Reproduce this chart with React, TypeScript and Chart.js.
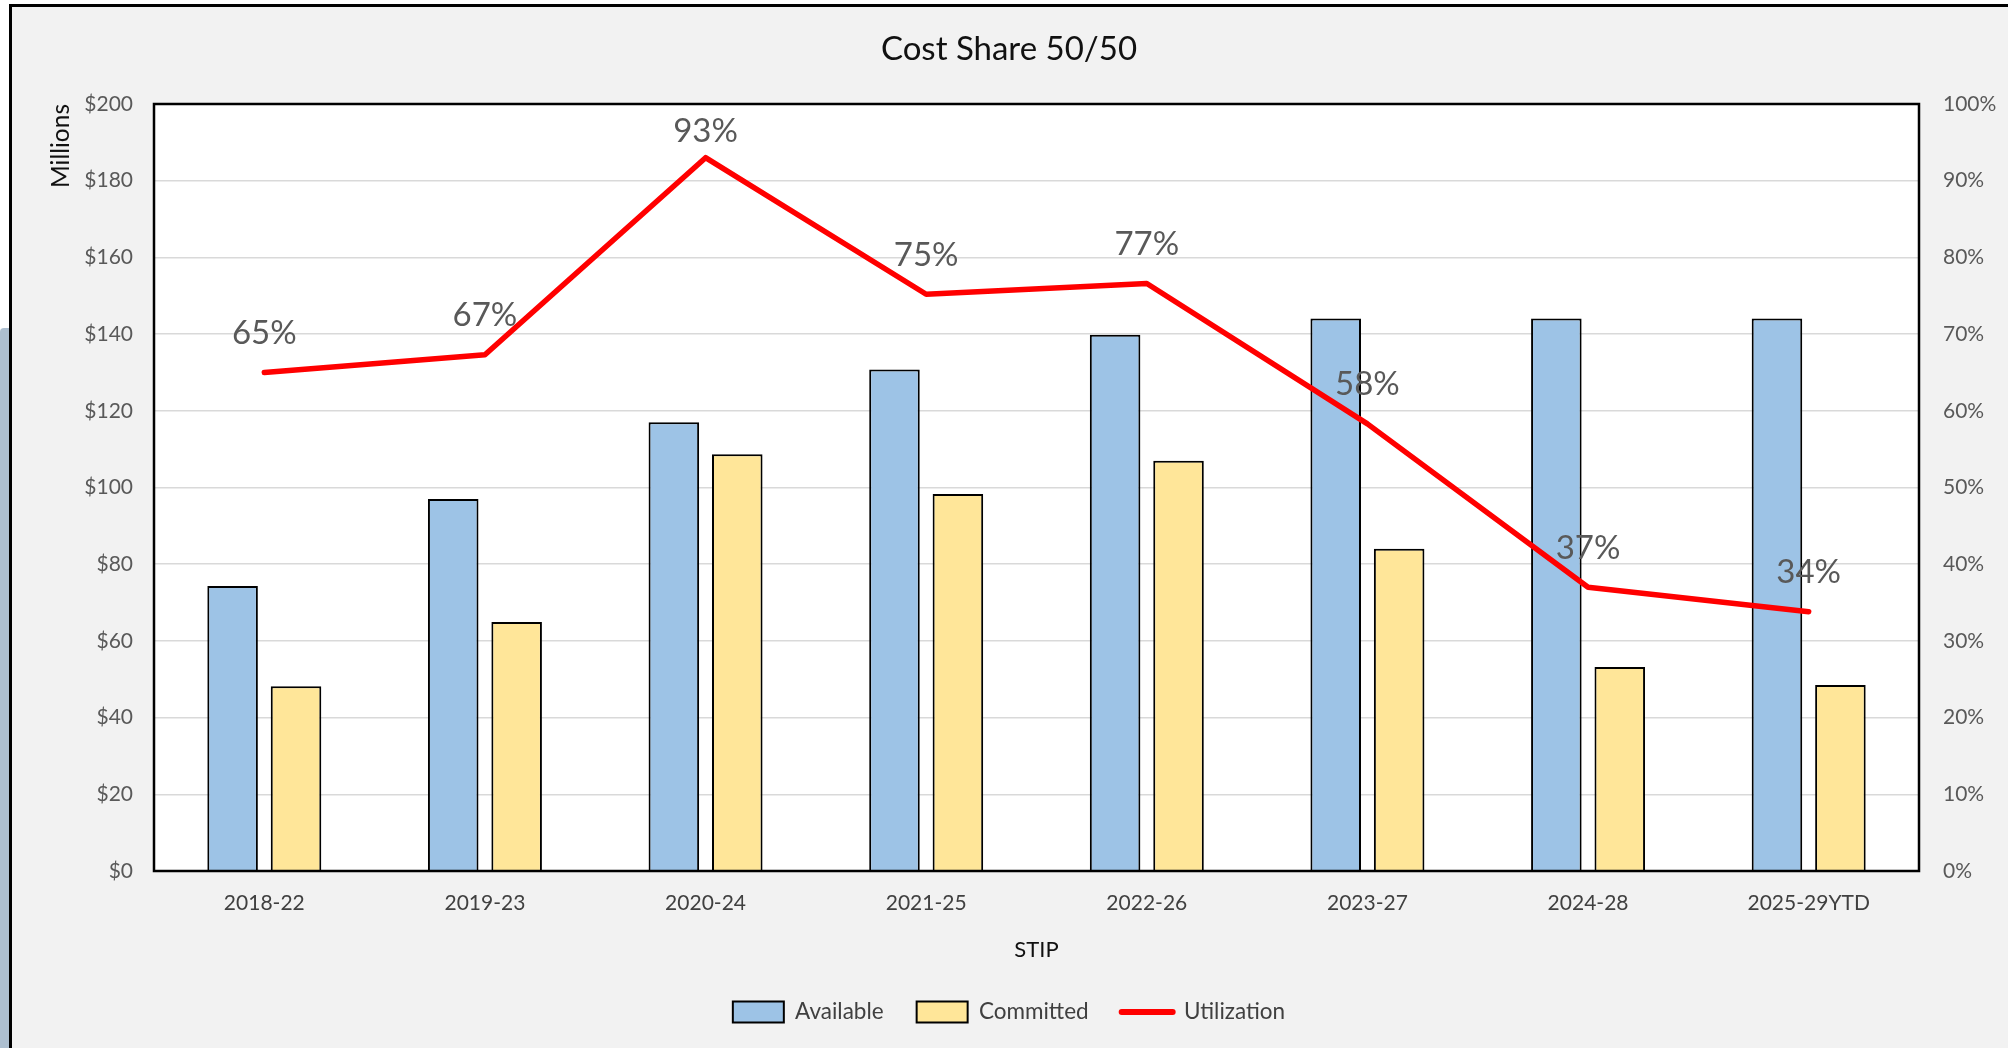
import React, { useEffect, useRef } from "react";
import { Chart, registerables } from "chart.js";

Chart.register(...registerables);

const categories = ["2018-22", "2019-23", "2020-24", "2021-25", "2022-26", "2023-27", "2024-28", "2025-29YTD"];
const available = [74.3, 97, 117, 130.8, 139.8, 144.1, 144.1, 144.1];
const committed = [48.2, 64.9, 108.7, 98.3, 107, 84, 53.2, 48.5];
const utilization = [65, 67.3, 93, 75.2, 76.6, 58.3, 37, 33.8];
const moneyAxis = { min: 0, max: 200, step: 20 };
const pctAxis = { min: 0, max: 100, step: 10 };

const FONT = "Lato, 'Noto Sans', sans-serif";

const plotFrame = {
  id: "plotFrame",
  beforeDraw(chart: any) {
    const { ctx, chartArea } = chart;
    ctx.save();
    ctx.fillStyle = "#ffffff";
    ctx.fillRect(chartArea.left, chartArea.top, chartArea.right - chartArea.left, chartArea.bottom - chartArea.top);
    ctx.restore();
  },
  afterDraw(chart: any) {
    const { ctx, chartArea } = chart;
    ctx.save();
    ctx.strokeStyle = "#000000";
    ctx.lineWidth = 2.5;
    ctx.strokeRect(chartArea.left, chartArea.top, chartArea.right - chartArea.left, chartArea.bottom - chartArea.top);
    ctx.restore();
  },
};

const lineLabels = {
  id: "lineLabels",
  afterDatasetsDraw(chart: any) {
    const { ctx, chartArea } = chart;
    const idx = chart.data.datasets.findIndex((d: any) => d.type === "line");
    if (idx < 0) return;
    const meta = chart.getDatasetMeta(idx);
    const data = chart.data.datasets[idx].data as number[];
    ctx.save();
    ctx.fillStyle = "#595959";
    ctx.font = `33px ${FONT}`;
    ctx.textAlign = "center";
    ctx.textBaseline = "middle";
    meta.data.forEach((el: any, i: number) => {
      const y = Math.max(el.y - 39, chartArea.top + 27);
      ctx.fillText(`${Math.round(data[i])}%`, el.x, y);
    });
    ctx.restore();
  },
};

export default function App() {
  const canvasRef = useRef<HTMLCanvasElement | null>(null);

  useEffect(() => {
    if (!canvasRef.current) return;
    const chart = new Chart(canvasRef.current, {
      type: "bar",
      data: {
        labels: categories,
        datasets: [
          {
            type: "bar",
            label: "Available",
            data: available,
            backgroundColor: "#9DC3E6",
            borderColor: "#000000",
            borderWidth: 2,
            yAxisID: "y",
            order: 1,
            categoryPercentage: 0.575,
            barPercentage: 0.797,
          },
          {
            type: "bar",
            label: "Committed",
            data: committed,
            backgroundColor: "#FFE699",
            borderColor: "#000000",
            borderWidth: 2,
            yAxisID: "y",
            order: 2,
            categoryPercentage: 0.575,
            barPercentage: 0.797,
          },
          {
            type: "line",
            label: "Utilization",
            data: utilization,
            borderColor: "#FF0000",
            backgroundColor: "#FF0000",
            borderWidth: 5.5,
            borderCapStyle: "round",
            borderJoinStyle: "round",
            pointRadius: 0,
            tension: 0,
            yAxisID: "y1",
            order: 0,
          } as any,
        ],
      },
      options: {
        animation: false,
        responsive: false,
        maintainAspectRatio: false,
        devicePixelRatio: 1,
        layout: { padding: { left: 0, right: 0, top: 0, bottom: 14.75 } },
        plugins: {
          title: {
            display: true,
            text: "Cost Share 50/50",
            color: "#111111",
            font: { family: FONT, size: 33, weight: "normal" },
            padding: { top: 29.2, bottom: 35.2 },
          },
          legend: {
            display: true,
            position: "bottom",
            labels: {
              font: { family: FONT, size: 22.5 },
              color: "#404040",
              usePointStyle: true,
              pointStyleWidth: 51,
              boxHeight: 21,
              padding: 33,
              sort: (a: any, b: any) => a.datasetIndex - b.datasetIndex,
              generateLabels: (chart: any) => {
                const items = Chart.defaults.plugins.legend.labels.generateLabels(chart);
                return items.map((it: any) => {
                  const ds: any = chart.data.datasets[it.datasetIndex];
                  if (ds.type === "line") {
                    return { ...it, pointStyle: "line", lineWidth: 6, strokeStyle: "#FF0000", fillStyle: "#FF0000", lineCap: "round" };
                  }
                  return { ...it, pointStyle: "rect", lineWidth: 2, strokeStyle: "#000000", fillStyle: ds.backgroundColor };
                });
              },
            },
          },
          tooltip: { enabled: false },
        },
        scales: {
          x: {
            grid: { display: false, drawTicks: false },
            border: { display: false },
            ticks: { color: "#404040", font: { family: FONT, size: 21 }, padding: 20 },
            title: {
              display: true,
              text: "STIP",
              color: "#111111",
              font: { family: FONT, size: 22 },
              padding: { top: 0, bottom: 4.55 },
            },
            afterFit: (scale: any) => {
              scale.height = 96.75;
            },
          },
          y: {
            position: "left",
            min: moneyAxis.min,
            max: moneyAxis.max,
            grid: { color: "#D9D9D9", lineWidth: 1.5, drawTicks: false },
            border: { display: false },
            ticks: {
              stepSize: moneyAxis.step,
              color: "#595959",
              font: { family: FONT, size: 21 },
              padding: 21,
              callback: (v: any) => `$${v}`,
            },
            title: {
              display: true,
              text: "Millions",
              align: "end",
              color: "#111111",
              font: { family: FONT, size: 24.5 },
              padding: { top: 36.3, bottom: 0 },
            },
            afterFit: (scale: any) => {
              scale.width = 144;
            },
          },
          y1: {
            position: "right",
            min: pctAxis.min,
            max: pctAxis.max,
            grid: { display: false, drawTicks: false },
            border: { display: false },
            ticks: {
              stepSize: pctAxis.step,
              color: "#595959",
              font: { family: FONT, size: 21 },
              padding: 24,
              callback: (v: any) => `${v}%`,
            },
            afterFit: (scale: any) => {
              scale.width = 89;
            },
          },
        },
      },
      plugins: [plotFrame, lineLabels],
    });
    return () => chart.destroy();
  }, []);

  return (
    <div style={{ position: "fixed", left: 0, top: 0, width: 2008, height: 1048, background: "#ffffff", overflow: "hidden" }}>
      <div style={{ position: "absolute", left: 0, top: 328, width: 9, height: 720, background: "#ADBFD0", borderTopLeftRadius: 4 }} />
      <div
        style={{
          position: "absolute",
          left: 9,
          top: 4,
          width: 2008 - 9,
          height: 1048 - 4,
          background: "#F2F2F2",
          borderLeft: "3px solid #000",
          borderTop: "3px solid #000",
          boxSizing: "border-box",
        }}
      />
      <canvas
        ref={canvasRef}
        width={1998}
        height={1048}
        style={{ position: "absolute", left: 10, top: 0, width: 1998, height: 1048 }}
      />
    </div>
  );
}
